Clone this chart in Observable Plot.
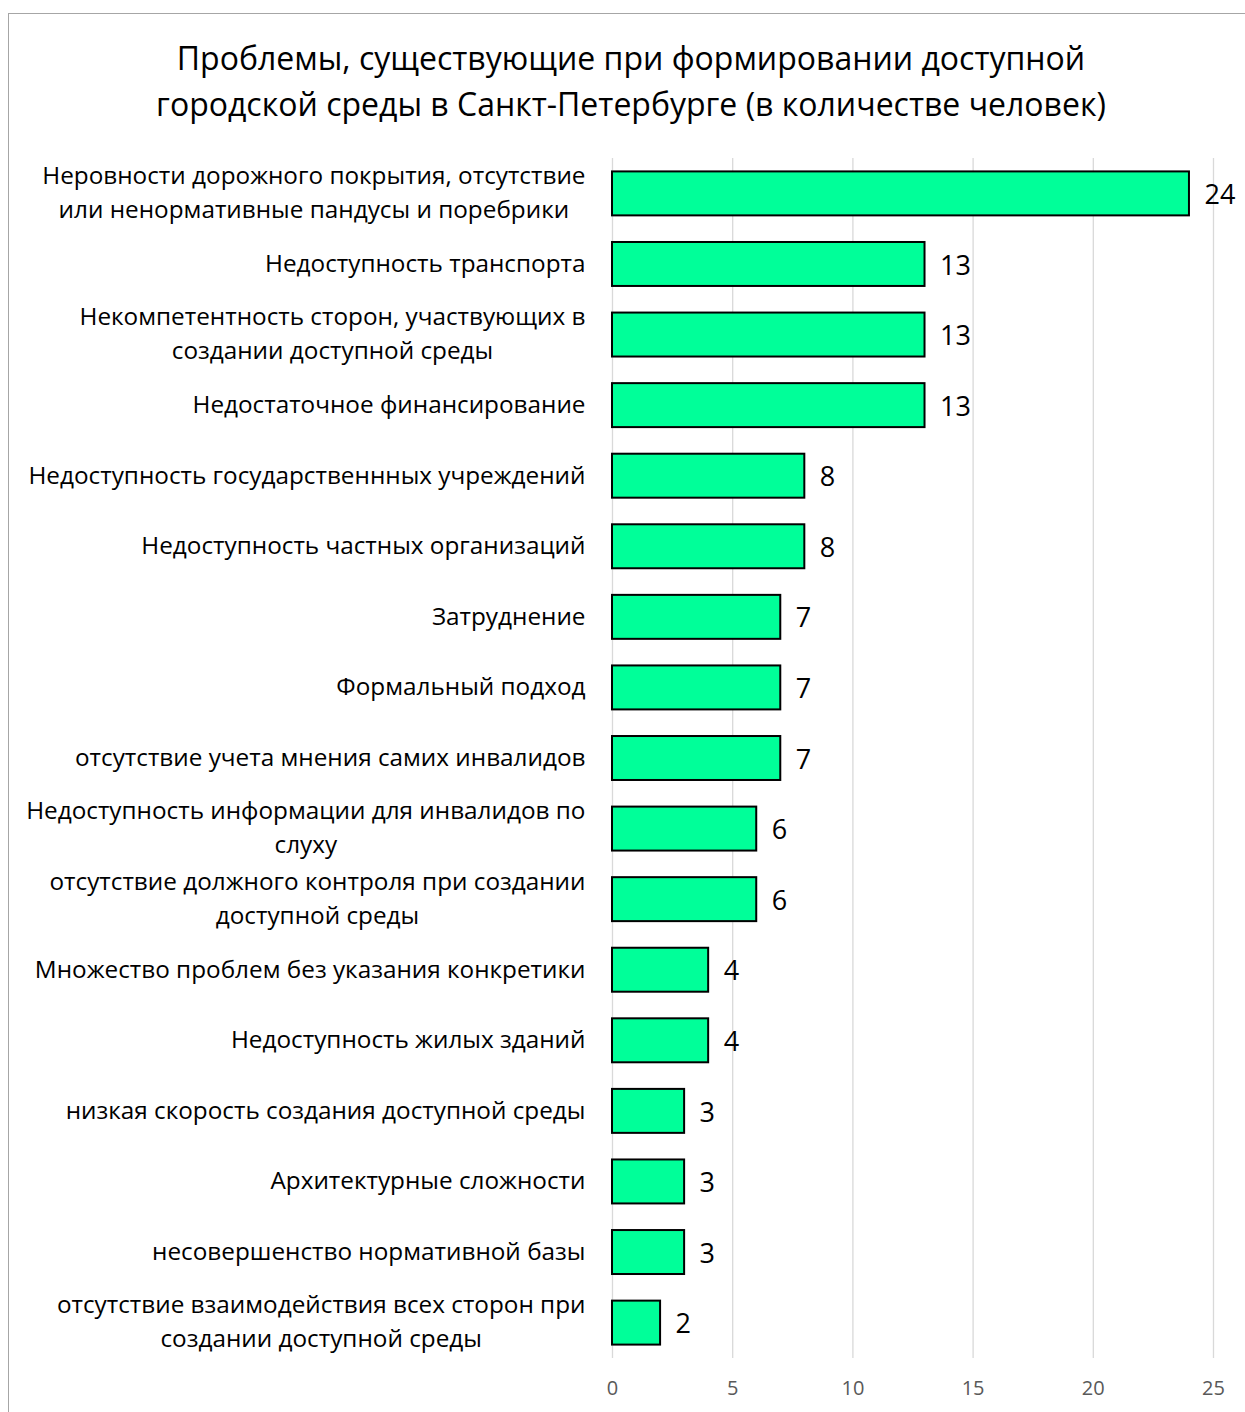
<!DOCTYPE html>
<html>
<head>
<meta charset="utf-8">
<script src="https://cdn.jsdelivr.net/npm/d3@7"></script>
<script src="https://cdn.jsdelivr.net/npm/@observablehq/plot@0.6"></script>
<style>
  html, body { margin: 0; padding: 0; background: #fff; overflow: hidden; }
  body { width: 1245px; height: 1412px; position: relative; font-family: "Open Sans", sans-serif; }
  #frame { position: absolute; left: 8px; top: 13px; width: 1250px; height: 1410px; border: 1px solid #a6a6a6; box-sizing: border-box; }
  #title { position: absolute; left: 0; top: 0; width: 1262px; height: 140px; text-align: center; font-size: 32px; line-height: 46px; padding-top: 35px; box-sizing: border-box; color: #000; }
  #chart { position: absolute; left: 0; top: 140px; }
</style>
</head>
<body>
<div id="frame"></div>
<div id="title">Проблемы, существующие при формировании доступной<br>городской среды в Санкт-Петербурге (в количестве человек)</div>
<div id="chart"></div>
<script>
const categories = [
  "Неровности дорожного покрытия, отсутствие\nили ненормативные пандусы и поребрики",
  "Недоступность транспорта",
  "Некомпетентность сторон, участвующих в\nсоздании доступной среды",
  "Недостаточное финансирование",
  "Недоступность государственнных учреждений",
  "Недоступность частных организаций",
  "Затруднение",
  "Формальный подход",
  "отсутствие учета мнения самих инвалидов",
  "Недоступность информации для инвалидов по\nслуху",
  "отсутствие должного контроля при создании\nдоступной среды",
  "Множество проблем без указания конкретики",
  "Недоступность жилых зданий",
  "низкая скорость создания доступной среды",
  "Архитектурные сложности",
  "несовершенство нормативной базы",
  "отсутствие взаимодействия всех сторон при\nсоздании доступной среды"
];
const values = [24, 13, 13, 13, 8, 8, 7, 7, 7, 6, 6, 4, 4, 3, 3, 3, 2];
const xTicks = [0, 5, 10, 15, 20, 25];

const data = categories.map((c, i) => ({category: c, value: values[i]}));

const chart = Plot.plot({
  width: 1245,
  height: 1272,
  marginLeft: 612,
  marginRight: 32,
  marginTop: 18,
  marginBottom: 54,
  style: {fontFamily: "'Open Sans', sans-serif", background: "transparent"},
  x: {domain: [0, 25], ticks: xTicks, label: null},
  y: {domain: categories, paddingInner: 0.377, paddingOuter: 0.19, round: false, label: null},
  marks: [
    Plot.gridX(xTicks, {stroke: "#d9d9d9", strokeOpacity: 1, strokeWidth: 1.3}),
    Plot.axisX({ticks: xTicks, tickSize: 0, tickPadding: 22, fontSize: 20, color: "#595959", label: null}),
    Plot.axisY({tickSize: 0, tickPadding: 27, dy: -3.5, fontSize: 24.3, lineHeight: 1.4, color: "#000", label: null, textOverflow: null, lineWidth: Infinity}),
    Plot.barX(data, {x: "value", y: "category", fill: "#00FF99", stroke: "#000", strokeWidth: 2}),
    Plot.text(data, {x: "value", y: "category", text: d => String(d.value), dx: 15, dy: 1.5, textAnchor: "start", fontSize: 27, fill: "#000"})
  ]
});
document.getElementById("chart").appendChild(chart);

// center wrapped lines of category labels relative to each other (right-aligned block)
chart.querySelectorAll('g[aria-label="y-axis tick label"] text').forEach(t => {
  const spans = t.querySelectorAll("tspan");
  if (spans.length > 1) {
    let maxW = 0;
    spans.forEach(s => { maxW = Math.max(maxW, s.getComputedTextLength()); });
    t.setAttribute("text-anchor", "middle");
    spans.forEach(s => s.setAttribute("x", -maxW / 2));
  }
});
</script>
</body>
</html>
